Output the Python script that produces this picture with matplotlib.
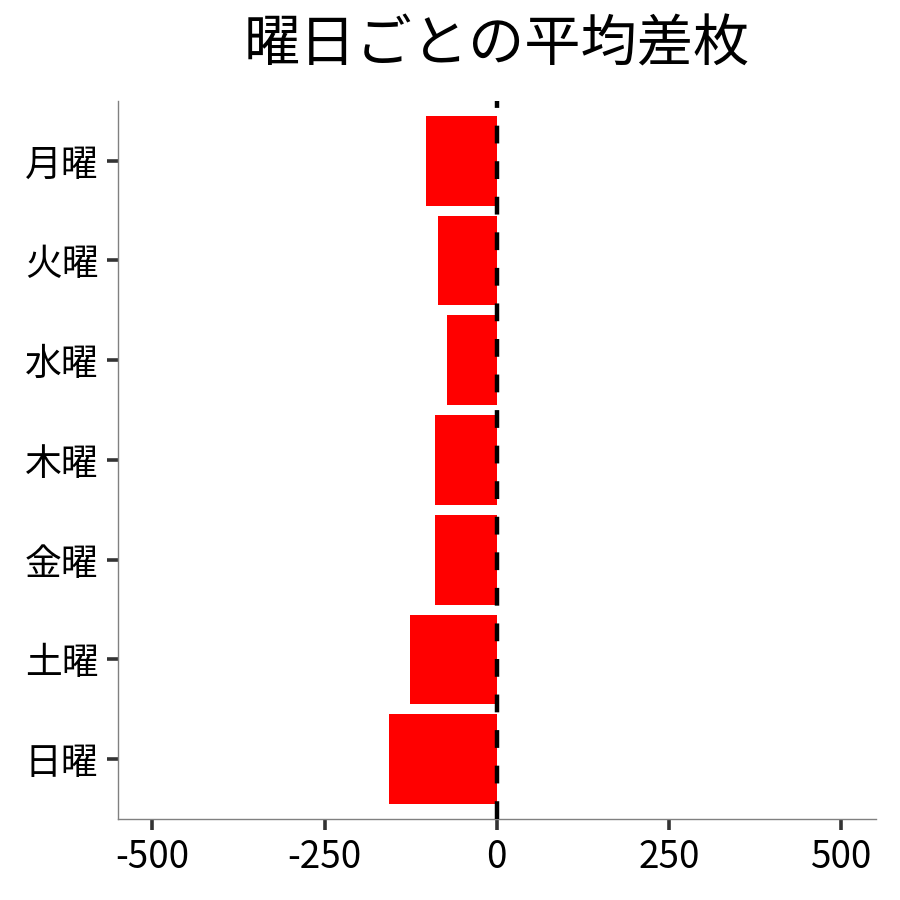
import numpy as np
import matplotlib
matplotlib.use("Agg")
from matplotlib import pyplot as plt

plt.rcParams['font.family'] = ['Noto Sans CJK JP', 'DejaVu Sans']

# data
days = ['月曜', '火曜', '水曜', '木曜', '金曜', '土曜', '日曜']
avg_diff = [-103, -86, -72, -90, -90, -126, -157]
x_ticks = [-500, -250, 0, 250, 500]

fig = plt.figure(figsize=(9, 9), dpi=100)
ax = fig.add_axes([0.131, 0.09, 0.842, 0.798])

ypos = np.arange(len(days))
ax.barh(ypos, avg_diff, height=0.9, color='#ff0000', zorder=2)
ax.axvline(0, color='black', linewidth=3.2, linestyle=(0, (4, 4)), zorder=3)

ax.set_yticks(ypos)
ax.set_yticklabels(days)
ax.set_ylim(len(days) - 0.4, -0.6)
ax.set_xlim(-550, 550)
ax.set_xticks(x_ticks)
ax.set_xticklabels([str(t) for t in x_ticks])

for side in ['top', 'right']:
    ax.spines[side].set_visible(False)
for side in ['left', 'bottom']:
    ax.spines[side].set_color('#808080')
    ax.spines[side].set_linewidth(1.0)

ax.tick_params(axis='both', length=8, width=2.6, color='#333333',
               labelsize=26.5, labelcolor='black', pad=6)

ax.set_title('曜日ごとの平均差枚', fontsize=40.5, pad=28)

fig.savefig('out.png', dpi=100)
